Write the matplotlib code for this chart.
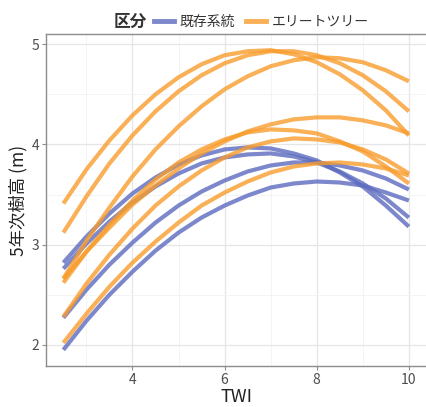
import matplotlib
matplotlib.use('Agg')
import matplotlib.pyplot as plt
from matplotlib.lines import Line2D

plt.rcParams['font.family'] = ['Noto Sans CJK JP', 'DejaVu Sans']

twi = [2.5, 3.0, 3.5, 4.0, 4.5, 5.0, 5.5, 6.0, 6.5, 7.0, 7.5, 8.0, 8.5, 9.0, 9.5, 10.0]

# 既存系統 (existing lines)
kizon_1 = [2.82, 3.08, 3.31, 3.51, 3.67, 3.80, 3.89, 3.95, 3.97, 3.96, 3.91, 3.84, 3.72, 3.58, 3.39, 3.18]
kizon_2 = [2.76, 3.01, 3.23, 3.42, 3.58, 3.71, 3.81, 3.87, 3.90, 3.91, 3.88, 3.82, 3.73, 3.61, 3.46, 3.27]
kizon_3 = [2.27, 2.55, 2.80, 3.02, 3.22, 3.39, 3.53, 3.64, 3.73, 3.79, 3.82, 3.82, 3.79, 3.74, 3.66, 3.55]
kizon_4 = [1.95, 2.24, 2.50, 2.73, 2.94, 3.12, 3.27, 3.39, 3.49, 3.57, 3.61, 3.63, 3.62, 3.59, 3.52, 3.44]

# エリートツリー (elite trees)
elite_1 = [3.41, 3.75, 4.04, 4.29, 4.50, 4.67, 4.80, 4.89, 4.93, 4.94, 4.90, 4.82, 4.70, 4.54, 4.34, 4.09]
elite_2 = [3.12, 3.48, 3.81, 4.09, 4.33, 4.53, 4.69, 4.81, 4.89, 4.93, 4.93, 4.89, 4.81, 4.69, 4.53, 4.33]
elite_3 = [2.66, 3.04, 3.37, 3.68, 3.95, 4.18, 4.38, 4.55, 4.68, 4.78, 4.84, 4.87, 4.86, 4.82, 4.74, 4.63]
elite_4 = [2.66, 2.93, 3.17, 3.40, 3.59, 3.76, 3.91, 4.03, 4.13, 4.20, 4.25, 4.27, 4.27, 4.24, 4.19, 4.11]
elite_5 = [2.62, 2.93, 3.20, 3.44, 3.65, 3.82, 3.95, 4.05, 4.12, 4.15, 4.14, 4.11, 4.03, 3.93, 3.78, 3.61]
elite_6 = [2.28, 2.61, 2.90, 3.16, 3.39, 3.58, 3.74, 3.87, 3.97, 4.03, 4.06, 4.05, 4.02, 3.95, 3.85, 3.71]
elite_7 = [2.02, 2.31, 2.58, 2.82, 3.03, 3.22, 3.39, 3.52, 3.63, 3.72, 3.78, 3.81, 3.82, 3.80, 3.76, 3.69]

kizon = [kizon_1, kizon_2, kizon_3, kizon_4]
elite = [elite_1, elite_2, elite_3, elite_4, elite_5, elite_6, elite_7]

blue = '#5b6bbf'
orange = '#f89c2c'
grey_txt = '#4d4d4d'

fig = plt.figure(figsize=(4.27, 4.07), dpi=100)
ax = fig.add_axes([0.108, 0.101, 0.89, 0.815])

for y in kizon:
    ax.plot(twi, y, color=blue, lw=3.0, alpha=0.8, solid_capstyle='butt')
for y in elite:
    ax.plot(twi, y, color=orange, lw=3.0, alpha=0.8, solid_capstyle='butt')

ax.set_xlim(2.125, 10.375)
ax.set_ylim(1.79, 5.10)
ax.set_xticks([4, 6, 8, 10])
ax.set_yticks([2, 3, 4, 5])
ax.set_xticks([3, 5, 7, 9], minor=True)
ax.set_yticks([2.5, 3.5, 4.5], minor=True)
ax.grid(which='major', color='#e6e6e6', lw=0.9)
ax.grid(which='minor', color='#f2f2f2', lw=0.6)
ax.set_axisbelow(True)
ax.tick_params(which='major', length=3, width=0.8, color='#8c8c8c',
               labelsize=10, labelcolor=grey_txt, pad=2)
ax.tick_params(which='minor', length=0)
for s in ax.spines.values():
    s.set_color('#8c8c8c')
    s.set_linewidth(1.0)
ax.spines['right'].set_visible(False)

ax.set_xlabel('TWI', fontsize=13, color='#222222', labelpad=1)
ax.set_ylabel('5年次樹高 (m)', fontsize=12.5, color='#222222', labelpad=3)

fig.text(0.305, 0.946, '区分', fontsize=12, fontweight='bold',
         color='#333333', va='center', ha='center')
handles = [Line2D([], [], color=blue, lw=3.5, alpha=0.8),
           Line2D([], [], color=orange, lw=3.5, alpha=0.8)]
fig.legend(handles, ['既存系統', 'エリートツリー'], ncol=2, frameon=False,
           loc='center', bbox_to_anchor=(0.612, 0.946), fontsize=10,
           handlelength=1.45, handletextpad=0.4, columnspacing=0.8,
           labelcolor='#333333')

fig.savefig('out.png', dpi=100)
